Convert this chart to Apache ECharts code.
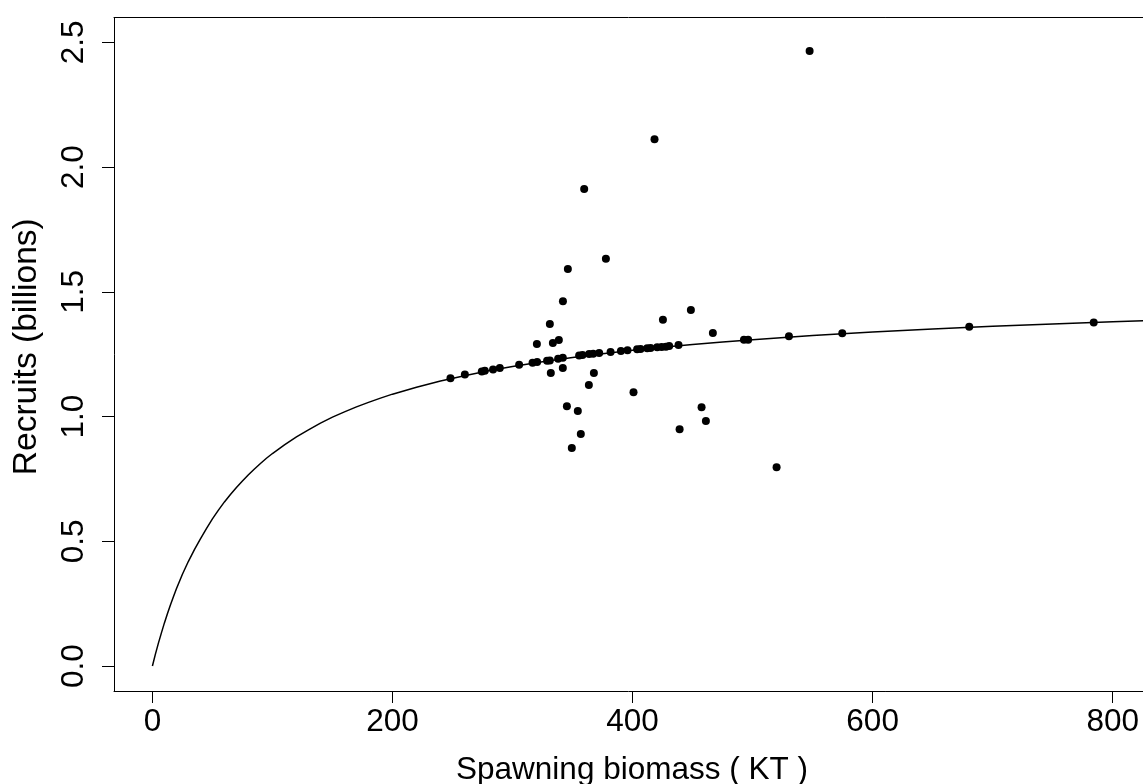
<!DOCTYPE html>
<html>
<head>
<meta charset="utf-8">
<script src="https://cdn.jsdelivr.net/npm/echarts@6/dist/echarts.min.js"></script>
<style>
html,body{margin:0;padding:0;background:#fff;}
#chart{width:1143px;height:784px;}
</style>
</head>
<body>
<div id="chart"></div>
<script>
// Fitted stock-recruit curve
const curveS = [0, 2.5, 5, 7.5, 10, 12.5, 15, 17.5, 20, 25, 30, 35, 40, 45, 50, 55, 60, 65, 70, 75, 80, 85, 90, 95, 100, 110, 120, 130, 140, 150, 160, 170, 180, 190, 200, 220, 240, 260, 280, 300, 325, 350, 375, 400, 425, 450, 475, 500, 550, 600, 650, 700, 750, 800, 832];
const curveR = [0, 0.048, 0.092, 0.133, 0.173, 0.21, 0.245, 0.278, 0.31, 0.368, 0.42, 0.467, 0.51, 0.551, 0.59, 0.625, 0.658, 0.688, 0.716, 0.742, 0.767, 0.79, 0.812, 0.833, 0.852, 0.887, 0.919, 0.947, 0.974, 0.998, 1.019, 1.039, 1.057, 1.074, 1.09, 1.118, 1.143, 1.164, 1.184, 1.201, 1.22, 1.237, 1.252, 1.266, 1.278, 1.289, 1.299, 1.308, 1.325, 1.339, 1.351, 1.362, 1.371, 1.38, 1.385];

// Predicted recruits (points lying on the curve)
const predS = [248.3, 260.3, 274.4, 276.9, 283.8, 289.4, 305.5, 316.7, 320.5, 328.8, 331.1, 338.0, 341.9, 355.5, 358.3, 363.8, 367.2, 372.2, 381.7, 390.3, 395.8, 403.8, 406.7, 412.2, 415.0, 420.5, 424.2, 427.8, 430.5, 438.3, 492.8, 496.3, 530.3, 574.7, 680.5, 784.2];
const predR = [1.154, 1.169, 1.181, 1.184, 1.189, 1.195, 1.208, 1.216, 1.219, 1.224, 1.225, 1.232, 1.236, 1.245, 1.247, 1.251, 1.252, 1.255, 1.259, 1.263, 1.266, 1.270, 1.271, 1.274, 1.275, 1.278, 1.279, 1.280, 1.283, 1.287, 1.308, 1.308, 1.322, 1.334, 1.360, 1.377];

// Observed recruits
const obsS = [547.5, 418.3, 359.7, 377.8, 346.1, 342.0, 331.1, 320.3, 333.6, 338.6, 341.9, 331.9, 367.8, 363.6, 400.8, 345.3, 354.4, 356.9, 349.4, 425.3, 448.6, 466.9, 457.5, 461.1, 439.2, 520.0];
const obsR = [2.466, 2.112, 1.912, 1.633, 1.592, 1.462, 1.371, 1.291, 1.295, 1.307, 1.195, 1.175, 1.175, 1.127, 1.098, 1.042, 1.022, 0.930, 0.874, 1.388, 1.427, 1.335, 1.038, 0.982, 0.949, 0.797];

const xTicks = [0, 200, 400, 600, 800];
const yTicks = [0, 0.5, 1, 1.5, 2, 2.5];

const xTitle = 'Spawning biomass ( KT )';
const yTitle = 'Recruits (billions)';

const FONT = '"Liberation Sans", Arial, Helvetica, sans-serif';
const FS = 31.5;

const zip = (a, b) => a.map((v, i) => [v, b[i]]);

const lineBlack = {color: '#000', width: 1};

const chart = echarts.init(document.getElementById('chart'), null, {renderer: 'canvas'});
chart.setOption({
  animation: false,
  backgroundColor: '#fff',
  grid: {left: 114, top: 17.5, right: 0, bottom: 93, show: false, containLabel: false, outerBoundsMode: 'none'},
  xAxis: [{
    type: 'value',
    min: -32, max: 825.25,
    position: 'bottom',
    name: xTitle,
    nameLocation: 'middle',
    nameGap: 63,
    nameTextStyle: {fontFamily: FONT, fontSize: FS, color: '#000', padding: [0, 0, 0, 7]},
    splitLine: {show: false},
    axisLine: {show: true, onZero: false, lineStyle: lineBlack},
    axisTick: {show: true, inside: false, length: 12, lineStyle: lineBlack, customValues: xTicks},
    axisLabel: {show: true, margin: 15, fontFamily: FONT, fontSize: FS, color: '#000', customValues: xTicks,
      formatter: v => String(v)}
  }, {
    type: 'value',
    min: -32, max: 825.25,
    position: 'top',
    splitLine: {show: false},
    axisLine: {show: true, onZero: false, lineStyle: lineBlack},
    axisTick: {show: false},
    axisLabel: {show: false}
  }],
  yAxis: {
    type: 'value',
    min: -0.1, max: 2.6,
    position: 'left',
    name: yTitle,
    nameLocation: 'middle',
    nameRotate: 90,
    nameGap: 70,
    nameTextStyle: {fontFamily: FONT, fontSize: 33.5, color: '#000', padding: [0, 0, 0, 15]},
    splitLine: {show: false},
    axisLine: {show: true, onZero: false, lineStyle: lineBlack},
    axisTick: {show: true, inside: false, length: 12, lineStyle: lineBlack, customValues: yTicks},
    axisLabel: {show: true, rotate: 90, margin: 24, fontFamily: FONT, fontSize: FS, color: '#000', customValues: yTicks,
      formatter: v => Number(v).toFixed(1)}
  },
  series: [
    {
      type: 'line',
      xAxisIndex: 0,
      data: zip(curveS, curveR),
      showSymbol: false,
      symbol: 'none',
      smooth: false,
      lineStyle: {color: '#000', width: 1.5},
      z: 2
    },
    {
      type: 'scatter',
      xAxisIndex: 0,
      data: zip(predS, predR),
      symbol: 'circle',
      symbolSize: 8,
      itemStyle: {color: '#000', opacity: 1},
      z: 3
    },
    {
      type: 'scatter',
      xAxisIndex: 0,
      data: zip(obsS, obsR),
      symbol: 'circle',
      symbolSize: 8,
      itemStyle: {color: '#000', opacity: 1},
      z: 3
    }
  ]
});
</script>
</body>
</html>
